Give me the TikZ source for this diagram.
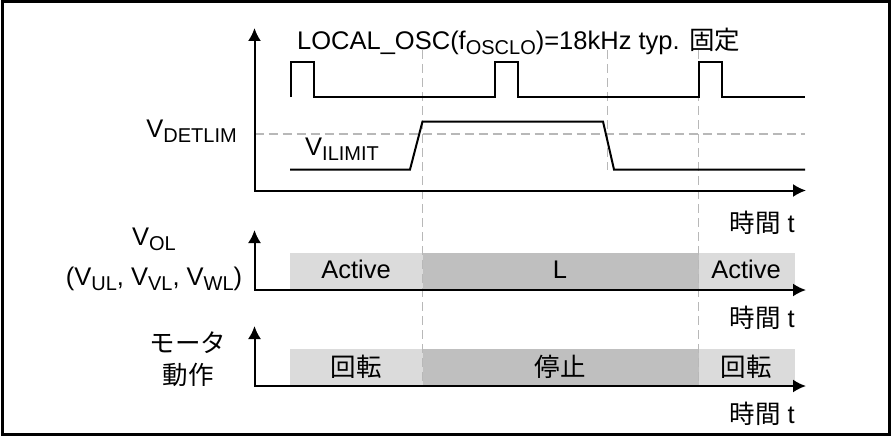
\documentclass[tikz,border=0pt]{standalone}
\usepackage{fontspec}
\setmainfont{Liberation Sans}
\newfontfamily\jp{Noto Sans CJK JP}
\usetikzlibrary{arrows.meta, positioning}
\definecolor{activegray}{rgb}{0.86, 0.86, 0.86}
\definecolor{stopgray}{rgb}{0.75, 0.75, 0.75}
\definecolor{guidegray}{rgb}{0.72, 0.72, 0.72}
\newcommand{\lowtext}[1]{\raisebox{-5.5pt}{\fontsize{20}{20}\selectfont #1}}

\begin{document}
\begin{tikzpicture}[x=1pt, y=-1pt, font=\fontsize{25.5}{29}\selectfont,
		sig/.style={line width=2pt},
		axis/.style={line width=2pt, {Latex[length=13pt,width=13pt]}-{Latex[length=13pt,width=13pt]}},
		guide/.style={guidegray, line width=1.5pt, dash pattern=on 9pt off 5pt},
		activebox/.style={fill=activegray},
		stopbox/.style={fill=stopgray}]
		\useasboundingbox (0,0) rectangle (891,436);
		\draw [line width=3pt] (2,2) rectangle (889,434);
		
		% bands
		\foreach \y in {253,349}{
			\fill [activebox] (290,\y) rectangle (422.5,\y+37);
			\fill [stopbox] (422.5,\y) rectangle (698.5,\y+37);
			\fill [activebox] (698.5,\y) rectangle (795,\y+37);
		}
		
		% guide lines
		\draw [guide] (254.5,134) -- (805,134);
		\foreach \x in {422.5,698.5}{
			\draw [guide] (\x,50) -- (\x,386);
		}
		\draw [guide] (607.5,50) -- (607.5,170);
		
		% axes
		\coordinate (o1) at (254.5,190.5);
		\coordinate (o2) at (254.5,290);
		\coordinate (o3) at (254.5,386);
		\draw [axis] (254.5,28) |- (806,190.5);
		\draw [axis] (254.5,230) |- (806,290);
		\draw [axis] (254.5,326) |- (806,386);
		
		% signals
		\draw [sig] (291,97) |- (314,62) |- (495,97) |- (518,62) |- (698.5,97) |- (722,62) |- (805,97);
		\draw [sig] (290,169.5) -- (410,169.5) -- (422.5,121.5) -- (603,121.5) -- (614,169.5) -- (805,169.5);
		
		% labels
		\node [anchor=base west, inner sep=0pt] (osc) at (297,49) {LOCAL\_OSC(f\lowtext{OSCLO})=18kHz typ. {\jp 固定}};
		\node [anchor=base east, inner sep=0pt] (detlim) at (237,137) {V\lowtext{DETLIM}};
		\node [anchor=base west, inner sep=0pt] (ilimit) at (305,155) {V\lowtext{ILIMIT}};
		\node [anchor=base, inner sep=0pt] (vol) at (154,245) {V\lowtext{OL}};
		\node [anchor=base, inner sep=0pt] (vuvw) at (154,285) {(V\lowtext{UL}, V\lowtext{VL}, V\lowtext{WL})};
		\node [anchor=base, inner sep=0pt] (motor) at (188,352) {\jp モータ};
		\node [anchor=base, inner sep=0pt] (action) at (188,384) {\jp 動作};
		\node [anchor=base east, inner sep=0pt] (time1) at (795,232) {{\jp 時間} t};
		\node [anchor=base east, inner sep=0pt] (time2) at (795,327) {{\jp 時間} t};
		\node [anchor=base east, inner sep=0pt] (time3) at (795,423) {{\jp 時間} t};
		
		\node [anchor=base, inner sep=0pt] (act1) at (356,278) {Active};
		\node [anchor=base, inner sep=0pt] (low) at (560,278) {L};
		\node [anchor=base, inner sep=0pt] (act2) at (746,278) {Active};
		\node [anchor=base, inner sep=0pt] (run1) at (356,376) {\jp 回転};
		\node [anchor=base, inner sep=0pt] (stop) at (560,376) {\jp 停止};
		\node [anchor=base, inner sep=0pt] (run2) at (746,376) {\jp 回転};
		
	\end{tikzpicture}
\end{document}
